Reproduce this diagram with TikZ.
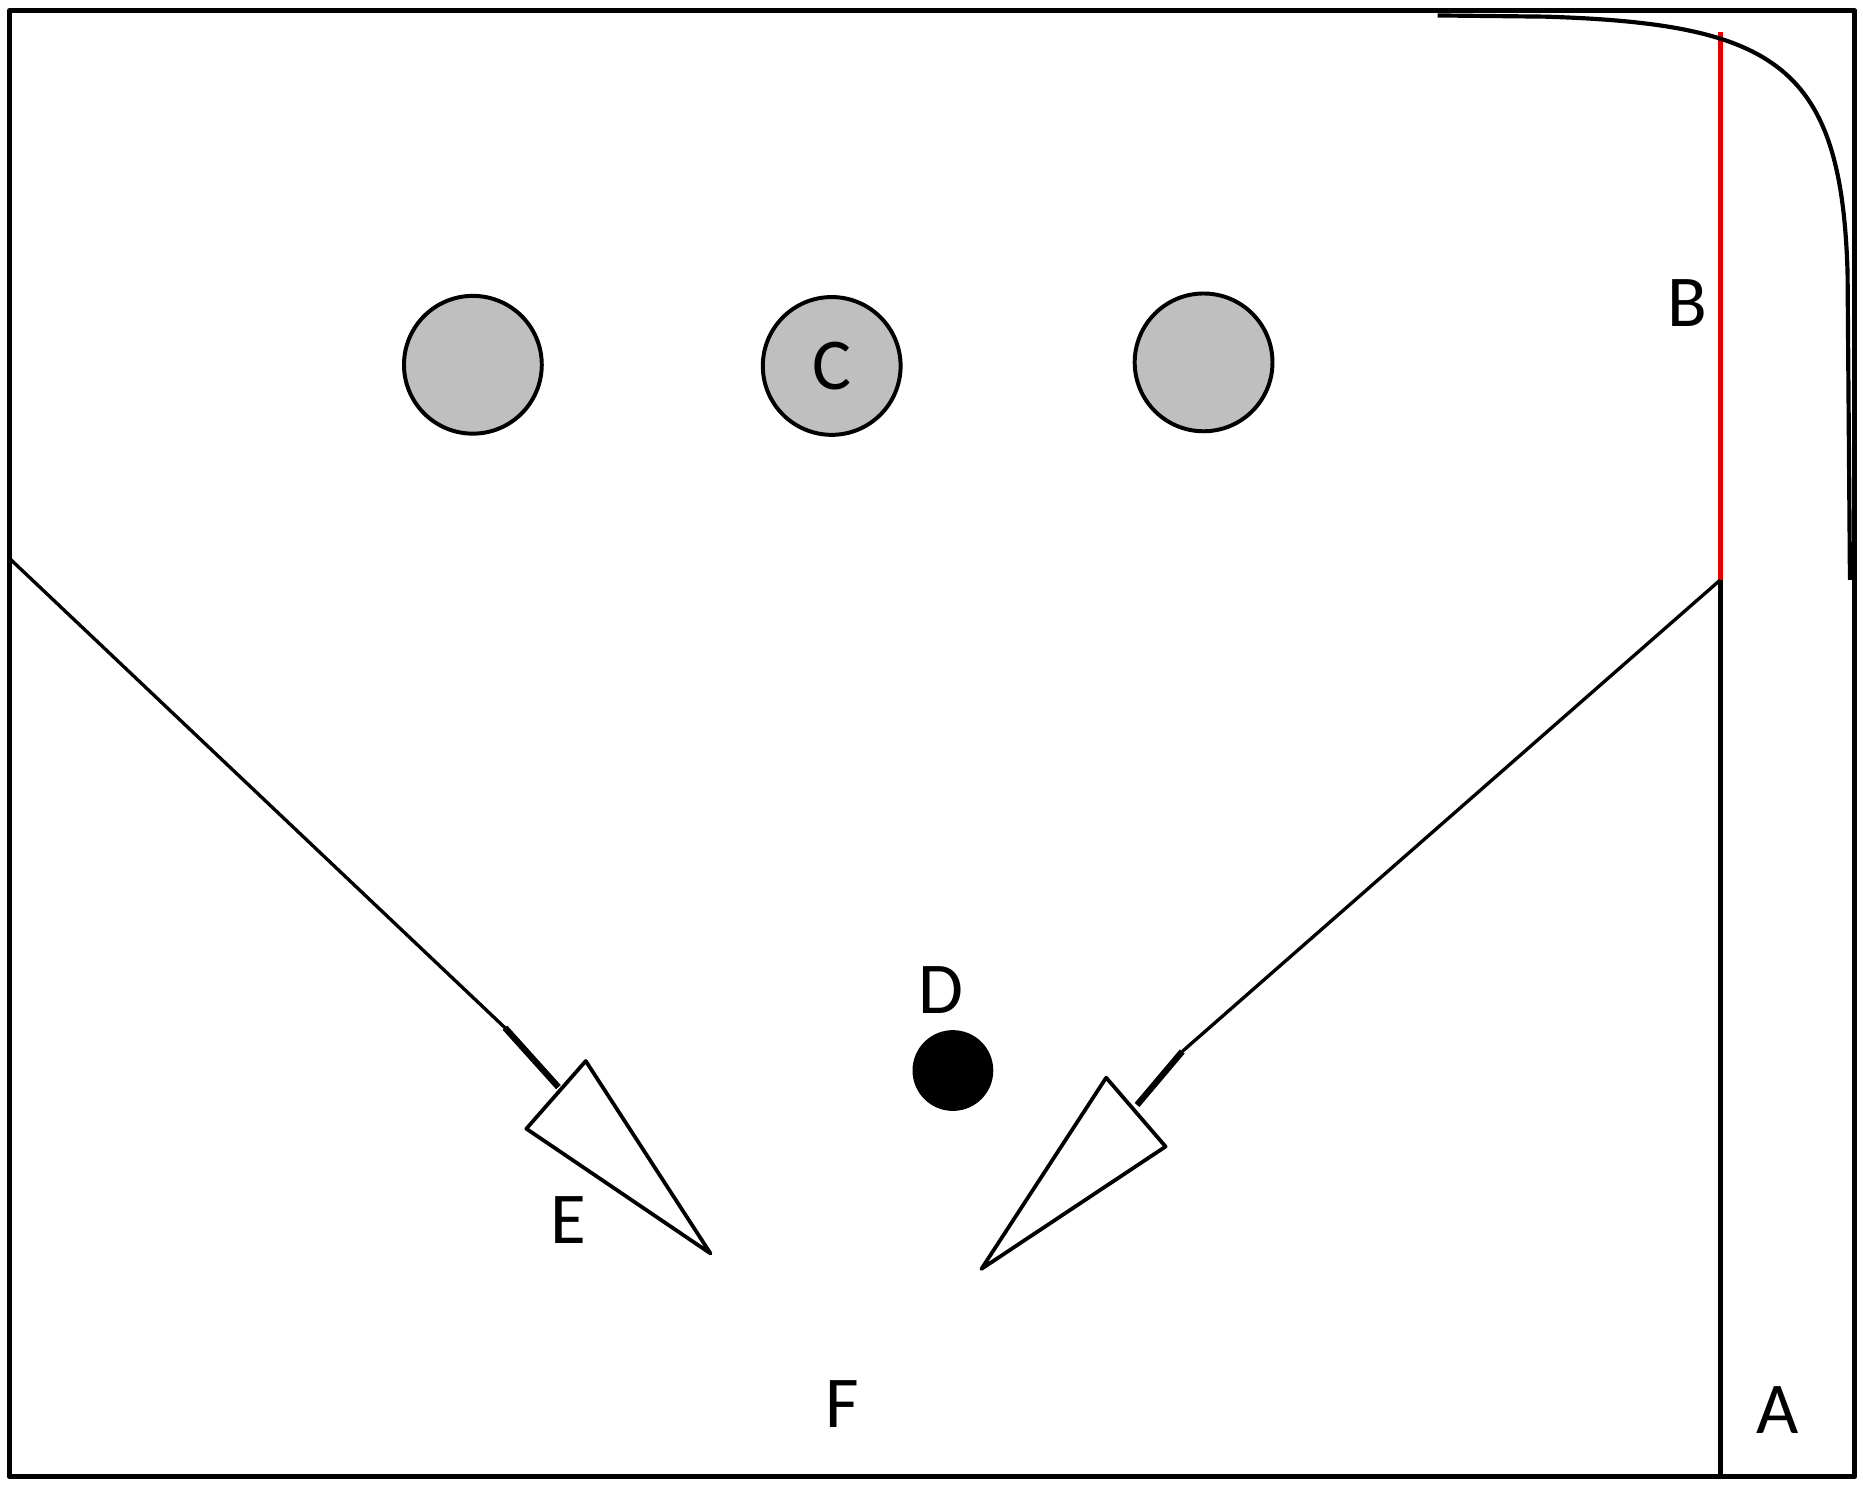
\documentclass[tikz,border=0pt]{standalone}
\usepackage{fontspec}
\setmainfont{Carlito}
\begin{document}
\begin{tikzpicture}[x=0.02cm, y=-0.02cm, line join=round,
    ball/.style={circle, draw, line width=1.9pt, fill=black!25, minimum size=2.32cm, inner sep=0pt},
    lbl/.style={font=\fontsize{35}{42}\selectfont},
    shaft/.style={line width=1.6pt},
    head/.style={line width=1.8pt, fill=white}]
    \useasboundingbox (0,0) rectangle (1568,1253);
    % outer frame
    \draw[line width=2.4pt] (8,9) rectangle (1561,1243);
    % the wall A and the red part B
    \coordinate (btop) at (1448,27);
    \coordinate (bbot) at (1448,488);
    \coordinate (abot) at (1448,1243);
    \draw[red!90!black, line width=2pt] (btop)--(bbot);
    \draw[line width=2pt] (bbot)--(abot);
    % the bent edge at the top right
    \draw[line width=2pt] (1210,13)--(1300,14) .. controls (1495,20) and (1550,55) .. (1555,230)--(1557,488);
    % the three balls
    \foreach \x/\y/\t [count=\i] in {398/307/, 700/308/C, 1013/305/}{
        \node[ball, lbl] (ball\i) at (\x,\y) {\t};
    }
    \node[circle, fill=black, minimum size=1.36cm, inner sep=0pt] (dot) at (802,901) {};
    % labels
    \node[lbl] (labA) at (1496,1187) {A};
    \node[lbl] (labB) at (1420,255) {B};
    \node[lbl] (labD) at (792,833) {D};
    \node[lbl] (labE) at (478,1027) {E};
    \node[lbl] (labF) at (709,1182) {F};
    % left arrow
    \coordinate (ls) at (8,470);
    \coordinate (lk) at (425,865);
    \coordinate (le) at (470,915);
    \coordinate (lb1) at (443,950);
    \coordinate (lb2) at (493,893);
    \coordinate (lt) at (598,1055);
    \draw[shaft] (ls)--(lk);
    \draw[line width=3pt] (lk)--(le);
    \draw[head] (lb1)--(lb2)--(lt)--cycle;
    % right arrow
    \coordinate (rk) at (995,885);
    \coordinate (re) at (957,930);
    \coordinate (rb1) at (931,907);
    \coordinate (rb2) at (981,965);
    \coordinate (rt) at (826,1068);
    \draw[shaft] (bbot)--(rk);
    \draw[line width=3pt] (rk)--(re);
    \draw[head] (rb1)--(rb2)--(rt)--cycle;
\end{tikzpicture}
\end{document}
